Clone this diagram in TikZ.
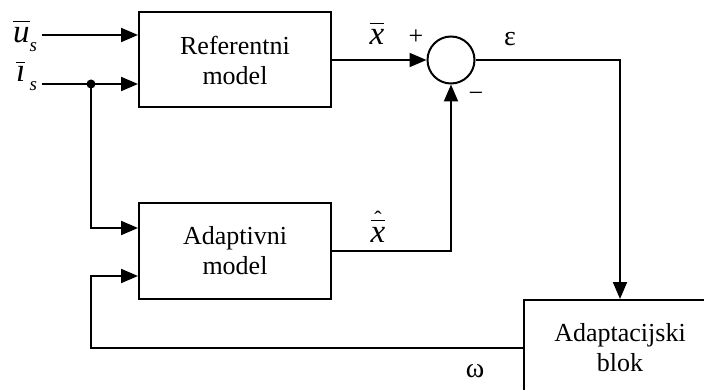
\documentclass[tikz,border=0pt]{standalone}
\usepackage[no-math]{fontspec}
\setmainfont{Liberation Serif}
\usetikzlibrary{arrows.meta,positioning}

% italic letter with a bar, small subscript, hat over bar
\newcommand{\barit}[2][6pt]{\vbox{\hrule height 1.3pt\kern #1\hbox{\fontsize{33}{33}\selectfont\textit{#2}}}}
\newcommand{\subs}[1]{\raisebox{-9pt}{\fontsize{19}{19}\selectfont\textit{#1}}}
\newcommand{\hatbar}[1]{\vbox{\offinterlineskip\halign{\hfil##\hfil\cr
  {\fontsize{22}{22}\selectfont ˆ}\cr\noalign{\kern-7pt}\barit{#1}\cr}}}

\begin{document}
\begin{tikzpicture}[x=1pt, y=-1pt, line width=2pt,
    font=\fontsize{26}{30}\selectfont,
    >={Triangle[length=17pt, width=14pt]},
    blok/.style={draw, rectangle, align=center, minimum width=192pt, minimum height=95pt},
    sum/.style={draw, circle, minimum size=47pt, inner sep=0pt},
    greek/.style={font=\fontsize{28}{30}\selectfont}]

  \useasboundingbox (0,0) rectangle (704,390);
  \clip (0,0) rectangle (704,390);

  % Blocks
  \node[blok] (ref) at (235,60) {Referentni\\model};
  \node[blok] (adapt) at (235,251) {Adaptivni\\model};
  \node[blok, minimum height=96pt, anchor=north west] (blok) at (523,299) {Adaptacijski\\blok};
  \node[sum] (sum) at (451,60) {};

  % Inputs
  \coordinate (uin) at (42,35);
  \coordinate (iin) at (42,84);
  \coordinate (split) at (91,84);
  \node[anchor=base east, inner sep=0pt] (ulbl) at (38,43) {\barit{u}\subs{s}};
  \node[anchor=base east, inner sep=0pt] (ilbl) at (38,82) {\barit[4pt]{\i}\,\subs{s}};

  \draw[->] (uin) -- (uin -| ref.west);
  \draw[->] (iin) -- (iin -| ref.west);
  \fill (split) circle (4.5);
  \draw[->] (split) |- ([yshift=23pt]adapt.west);

  % Error
  \draw[->] (ref.east |- sum) -- (sum.west);
  \draw[->] (adapt.east) -| (sum.south);
  \draw[->] (sum.east) -| (blok.north);

  % Feedback
  \draw[->] (blok.west) -- (blok.west -| split) |- ([yshift=-25pt]adapt.west);

  % Labels
  \node[anchor=base, inner sep=0pt] (xbar) at (377,45) {\barit{x}};
  \node[anchor=base, inner sep=0pt] (plus) at (416,45) {+};
  \node (minus) at (476,97) {−};
  \node[greek, anchor=base, inner sep=0pt] (eps) at (510,46) {ε};
  \node[anchor=base, inner sep=0pt] (xhat) at (378,242) {\hatbar{x}};
  \node[greek, anchor=base, inner sep=0pt] (omega) at (475,377) {ω};

\end{tikzpicture}
\end{document}
